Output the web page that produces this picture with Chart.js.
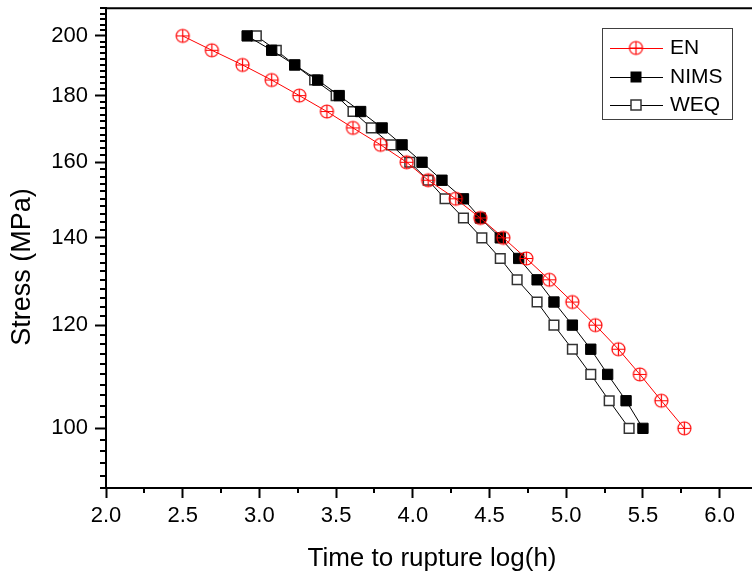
<!DOCTYPE html>
<html>
<head>
<meta charset="utf-8">
<script src="https://cdn.jsdelivr.net/npm/chart.js@4.4.0/dist/chart.umd.min.js"></script>
<style>
  html, body { margin: 0; padding: 0; overflow: hidden; background: #fff; }
  #wrap { width: 770px; height: 576px; }
</style>
</head>
<body>
<div id="wrap"><canvas id="chart" width="770" height="576"></canvas></div>
<script>
// stress levels (MPa) and rupture times log(h)
const stress = [200, 195, 190, 185, 180, 175, 170, 165, 160, 155, 150, 145, 140, 135, 130, 125, 120, 115, 110, 105, 100];
const enTime = [2.50, 2.69, 2.89, 3.08, 3.26, 3.44, 3.61, 3.79, 3.96, 4.10, 4.28, 4.44, 4.59, 4.74, 4.89, 5.04, 5.19, 5.34, 5.48, 5.62, 5.77];
const nimsTime = [2.92, 3.08, 3.23, 3.38, 3.52, 3.66, 3.80, 3.93, 4.06, 4.19, 4.33, 4.44, 4.57, 4.69, 4.81, 4.92, 5.04, 5.16, 5.27, 5.39, 5.50];
const weqTime = [2.98, 3.11, 3.23, 3.36, 3.50, 3.61, 3.73, 3.86, 3.98, 4.10, 4.21, 4.33, 4.45, 4.57, 4.68, 4.81, 4.92, 5.04, 5.16, 5.28, 5.41];

const xTicks = [2.0, 2.5, 3.0, 3.5, 4.0, 4.5, 5.0, 5.5, 6.0];
const yTicks = [100, 120, 140, 160, 180, 200];

const family = "'Liberation Sans', Arial, sans-serif";
Chart.defaults.font.family = family;
Chart.defaults.color = "#000";

// circle with a cross inside, used for EN
function crossCircle(r, color) {
  const c = document.createElement("canvas");
  const s = 2 * r + 4;
  c.width = s;
  c.height = s;
  const g = c.getContext("2d");
  g.strokeStyle = color;
  g.lineWidth = 1.2;
  g.beginPath();
  g.arc(s / 2, s / 2, r, 0, Math.PI * 2);
  g.stroke();
  g.beginPath();
  g.moveTo(s / 2 - r, s / 2);
  g.lineTo(s / 2 + r, s / 2);
  g.moveTo(s / 2, s / 2 - r);
  g.lineTo(s / 2, s / 2 + r);
  g.stroke();
  return c;
}
const enMarker = crossCircle(6.5, "#ff0000");

function toPoints(times) {
  return stress.map((s, i) => ({ x: times[i], y: s }));
}

// frame on top/right plus minor ticks
const frame = {
  id: "frame",
  afterDraw(chart) {
    const ctx = chart.ctx;
    const ca = chart.chartArea;
    const xs = chart.scales.x;
    const ys = chart.scales.y;
    ctx.save();
    ctx.strokeStyle = "#000";
    ctx.lineWidth = 2;
    ctx.beginPath();
    ctx.moveTo(ca.left, ca.top);
    ctx.lineTo(ca.right, ca.top);
    ctx.lineTo(ca.right, ca.bottom);
    ctx.stroke();

    ctx.beginPath();
    for (let v = 90; v <= 210; v += 2) {
      if (v % 20 === 0) continue;
      const py = Math.round(ys.getPixelForValue(v));
      ctx.moveTo(ca.left - 6, py);
      ctx.lineTo(ca.left, py);
    }
    for (let v = 2.25; v < 6.3; v += 0.5) {
      const px = Math.round(xs.getPixelForValue(v));
      ctx.moveTo(px, ca.bottom);
      ctx.lineTo(px, ca.bottom + 5);
    }
    ctx.stroke();
    ctx.restore();
  },
};

// legend box inside the plot
const boxLegend = {
  id: "boxLegend",
  afterDraw(chart) {
    const ctx = chart.ctx;
    const left = 602, top = 28, w = 130, h = 91;
    ctx.save();
    ctx.strokeStyle = "#404040";
    ctx.lineWidth = 1;
    ctx.strokeRect(left + 0.5, top + 0.5, w, h);
    const rows = [48, 77, 105];
    ctx.font = "21px " + family;
    ctx.textBaseline = "middle";
    chart.data.datasets.forEach((ds, i) => {
      const y = rows[i];
      ctx.strokeStyle = ds.borderColor;
      ctx.lineWidth = 1;
      ctx.beginPath();
      ctx.moveTo(610, y + 0.5);
      ctx.lineTo(663, y + 0.5);
      ctx.stroke();
      if (ds.pointStyle === "rect") {
        const side = 10;
        ctx.fillStyle = ds.pointBackgroundColor;
        ctx.fillRect(636 - side / 2, y - side / 2, side, side);
        ctx.strokeStyle = ds.pointBorderColor;
        ctx.lineWidth = ds.pointBorderWidth;
        ctx.strokeRect(636 - side / 2, y - side / 2, side, side);
      } else {
        ctx.drawImage(ds.pointStyle, 636 - ds.pointStyle.width / 2, y - ds.pointStyle.height / 2);
      }
      ctx.fillStyle = "#000";
      ctx.fillText(ds.label, 670, y);
    });
    ctx.restore();
  },
};

new Chart(document.getElementById("chart"), {
  type: "line",
  data: {
    datasets: [
      {
        label: "EN",
        data: toPoints(enTime),
        borderColor: "#ff0000",
        borderWidth: 1,
        pointStyle: enMarker,
        pointRadius: 6.5,
        tension: 0,
      },
      {
        label: "NIMS",
        data: toPoints(nimsTime),
        borderColor: "#000000",
        borderWidth: 1,
        pointStyle: "rect",
        pointRadius: 7.3,
        pointBackgroundColor: "#000000",
        pointBorderColor: "#000000",
        pointBorderWidth: 1,
        tension: 0,
      },
      {
        label: "WEQ",
        data: toPoints(weqTime),
        borderColor: "#000000",
        borderWidth: 1,
        pointStyle: "rect",
        pointRadius: 6.8,
        pointBackgroundColor: "#ffffff",
        pointBorderColor: "#333333",
        pointBorderWidth: 1.5,
        tension: 0,
      },
    ],
  },
  options: {
    responsive: false,
    animation: false,
    layout: { padding: { top: 7, right: 12, left: 0, bottom: 0 } },
    plugins: { legend: { display: false }, tooltip: { enabled: false } },
    scales: {
      x: {
        type: "linear",
        min: 2,
        max: 6.25,
        afterBuildTicks: (s) => { s.ticks = xTicks.map((v) => ({ value: v })); },
        afterFit: (s) => { s.height = 88; s.paddingLeft = 0; s.paddingRight = 0; },
        ticks: {
          callback: (v) => Number(v).toFixed(1),
          font: { size: 22 },
          color: "#000",
          padding: 5,
          maxRotation: 0,
          autoSkip: false,
        },
        grid: { drawOnChartArea: false, drawTicks: true, tickLength: 10, tickColor: "#000", tickWidth: 2 },
        border: { display: true, color: "#000", width: 2 },
        title: { display: true, text: "Time to rupture log(h)", font: { size: 26 }, color: "#000", padding: 2 },
      },
      y: {
        type: "logarithmic",
        min: 90,
        max: 210,
        afterBuildTicks: (s) => { s.ticks = yTicks.map((v) => ({ value: v })); },
        afterFit: (s) => { s.width = 106; s.paddingTop = 0; s.paddingBottom = 0; },
        ticks: {
          callback: (v) => String(v),
          font: { size: 22 },
          color: "#000",
          padding: 7,
          autoSkip: false,
        },
        grid: { drawOnChartArea: false, drawTicks: true, tickLength: 11, tickColor: "#000", tickWidth: 2 },
        border: { display: true, color: "#000", width: 2 },
        // trailing spaces nudge the centred title a little lower, as in the original
        title: { display: true, text: "Stress (MPa)     ", font: { size: 27 }, color: "#000", padding: 6 },
      },
    },
  },
  plugins: [frame, boxLegend],
});
</script>
</body>
</html>
